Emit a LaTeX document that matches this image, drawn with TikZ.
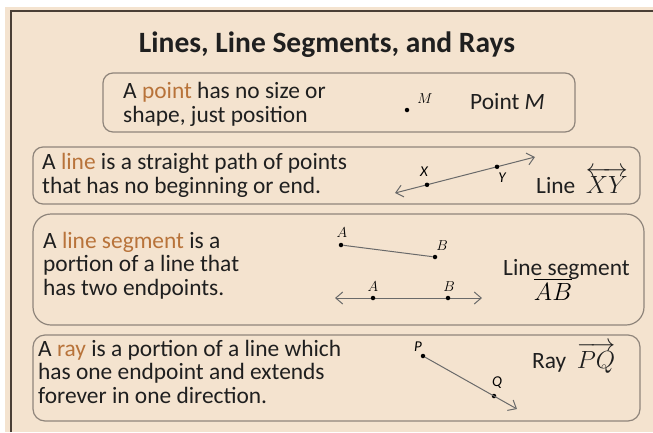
\documentclass[tikz,border=0pt]{standalone}
\usepackage{amsmath}
\usepackage{fontspec}
\setmainfont{Carlito}
\usetikzlibrary{arrows.meta}
\definecolor{bgbeige}{HTML}{F4E3CF}
\definecolor{boxedge}{HTML}{8F857B}
\definecolor{framecol}{HTML}{4A3F36}
\definecolor{keyword}{HTML}{B8733A}
\definecolor{textcol}{HTML}{1F1F1F}
\definecolor{linecol}{HTML}{6A6A6A}
\begin{document}
\begin{tikzpicture}[x=1pt,y=-1pt,
	infobox/.style = {draw = boxedge, line width = 1.2},
	desc/.style = {anchor = base west, align = left, inner sep = 0, text = textcol,
		font = \fontsize{23.4}{23.5}\selectfont},
	caption/.style = {anchor = base west, inner sep = 0, text = textcol,
		font = \fontsize{23.4}{23.5}\selectfont},
	dot/.style = {circle, fill = black, inner sep = 0, minimum size = 4.5},
	seriflab/.style = {inner sep = 0, font = \fontsize{14}{14}\selectfont},
	sanslab/.style = {inner sep = 0, font = \fontsize{15}{15}\selectfont\itshape},
	geoline/.style = {draw = linecol, line width = 1},
	tip/.style = {-{Straight Barb[length=7,width=12]}},
	bothtips/.style = {{Straight Barb[length=7,width=12]}-{Straight Barb[length=7,width=12]}}]
	\useasboundingbox (0,0) rectangle (653,432);
	\fill [white] (0,0) rectangle (653,432);
	\fill [bgbeige] (5,7) rectangle (653,432);
	\draw [framecol, line width = 1.5] (11,432) -- (11,11) -- (653,11);
	\node (title) [anchor = base, text = textcol, font = \fontsize{29.5}{30}\selectfont\bfseries]
		at (327,52) {Lines, Line Segments, and Rays};
	% point
	\draw [infobox, rounded corners = 10] (103,73) rectangle (575,132);
	\node (pointtxt) [desc] at (123,122) {A \textcolor{keyword}{point} has no size or\\shape, just position};
	\node (M) [dot] at (407,110) {};
	\node (labM) [seriflab] at (425,99) {$M$};
	\node (pointcap) [caption] at (470,109) {Point \textit{M}};
	% line
	\draw [infobox, rounded corners = 10] (33,147) rectangle (640,204);
	\node (linetxt) [desc] at (42,193) {A \textcolor{keyword}{line} is a straight path of points\\that has no beginning or end.};
	\coordinate (xyL) at (395,193);
	\coordinate (xyR) at (535,157);
	\draw [geoline, bothtips] (xyL) -- (xyR);
	\node (X) [dot] at (427,184.8) {};
	\node (Y) [dot] at (497,166.8) {};
	\node (labX) [sanslab] at (424,172) {X};
	\node (labY) [sanslab] at (502,178) {Y};
	\node (linecap) [caption] at (536,193) {Line~~$\overleftrightarrow{XY}$};
	% line segment
	\draw [infobox, rounded corners = 18] (33,214) rectangle (644,325);
	\node (segtxt) [desc] at (43,295) {A \textcolor{keyword}{line segment} is a\\portion of a line that\\has two endpoints.};
	\node (A1) [dot] at (341,245) {};
	\node (B1) [dot] at (435,257) {};
	\draw [geoline] (A1) -- (B1);
	\node (labA1) [seriflab] at (342,233) {$A$};
	\node (labB1) [seriflab] at (442,246) {$B$};
	\coordinate (abL) at (335,298);
	\coordinate (abR) at (482,298);
	\draw [geoline, bothtips] (abL) -- (abR);
	\node (A2) [dot] at (373,298) {};
	\node (B2) [dot] at (448,298) {};
	\node (labA2) [seriflab] at (373,287) {$A$};
	\node (labB2) [seriflab] at (449,287) {$B$};
	\node (segcap) [caption] at (503,275) {Line segment};
	\node (segsym) [anchor = base, inner sep = 0, font = \fontsize{23.4}{23.5}\selectfont] at (553,300) {$\overline{AB}$};
	% ray
	\draw [infobox, rounded corners = 12] (33,335) rectangle (640,421);
	\node (raytxt) [desc] at (38,403) {A \textcolor{keyword}{ray} is a portion of a line which\\has one endpoint and extends\\forever in one direction.};
	\node (P) [dot] at (423,356) {};
	\node (Q) [dot] at (494,396) {};
	\coordinate (pqR) at (517,409);
	\draw [geoline, tip] (P) -- (pqR);
	\node (labP) [sanslab] at (418,347) {P};
	\node (labQ) [sanslab] at (497,383) {Q};
	\node (raycap) [caption] at (532,368) {Ray~~$\overrightarrow{PQ}$};
\end{tikzpicture}
\end{document}
